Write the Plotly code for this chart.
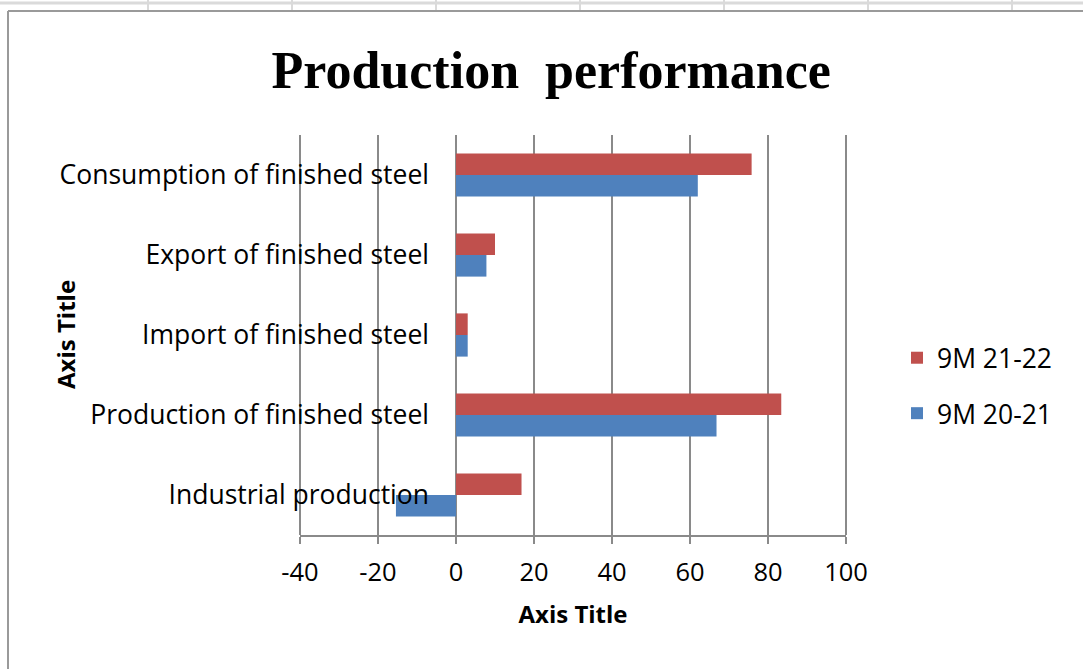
import plotly.graph_objects as go

categories = [
    "Industrial production",
    "Production of finished steel",
    "Import of finished steel",
    "Export of finished steel",
    "Consumption of finished steel",
]
series_2021 = [-15.4, 66.8, 3.0, 7.8, 62.0]   # 9M 20-21
series_2122 = [16.8, 83.4, 3.0, 10.0, 75.8]   # 9M 21-22
x_ticks = [-40, -20, 0, 20, 40, 60, 80, 100]
x_tick_text = ["-40", "-20", "0", "20", "40", "60", "80", "100"]

W, H = 1083, 669
L, R, T, B = 300, 237, 135, 134
pw, ph = W - L - R, H - T - B

def px_x(p):
    return (p - L) / pw

def px_y(p):
    return (H - B - p) / ph

font = "Open Sans"
grid_col = "#8a8a8a"
fig = go.Figure()
fig.add_trace(go.Bar(y=categories, x=series_2021, orientation="h", name="9M 20-21",
                     marker=dict(color="#4F81BD", line=dict(width=0)), legendgroup="a",
                     legendrank=2))
fig.add_trace(go.Bar(y=categories, x=series_2122, orientation="h", name="9M 21-22",
                     marker=dict(color="#C0504D", line=dict(width=0)), legendgroup="b",
                     legendrank=1))

fig.update_layout(
    width=W, height=H, autosize=False,
    margin=dict(l=L, r=R, t=T, b=B),
    paper_bgcolor="white", plot_bgcolor="white",
    barmode="group", bargap=0.46, bargroupgap=0,
    title=dict(text="Production  performance", x=0.509, xanchor="center",
               y=1 - 70 / H, yanchor="middle",
               font=dict(family="Liberation Serif", size=52, color="black", weight="bold")),
    font=dict(family=font, size=25, color="black"),
    legend=dict(x=px_x(897), y=px_y(334), xanchor="left", yanchor="top",
                traceorder="grouped", tracegroupgap=18,
                font=dict(size=26.5, family=font), bgcolor="rgba(0,0,0,0)"),
    xaxis=dict(range=[-40, 100], tickvals=x_ticks, ticktext=x_tick_text,
               showgrid=True, gridcolor=grid_col,
               gridwidth=2, zeroline=False, showline=True, linecolor=grid_col, linewidth=2,
               ticks="outside", ticklen=7, tickcolor=grid_col, tickwidth=2,
               ticklabelstandoff=6, tickfont=dict(size=25.5),
               title=dict(text="<b>Axis Title</b>", standoff=20, font=dict(size=24)),
               fixedrange=True, automargin=False),
    yaxis=dict(type="category", categoryorder="array", categoryarray=categories,
               anchor="free", position=px_x(457), showgrid=False, zeroline=False,
               showline=False, ticks="", ticklabelstandoff=28, automargin=False,
               tickfont=dict(size=26.5), fixedrange=True),
    annotations=[dict(text="<b>Axis Title</b>", textangle=-90, x=px_x(65), y=px_y(335),
                      xref="paper", yref="paper", showarrow=False,
                      font=dict(size=24, family=font, color="black"),
                      xanchor="center", yanchor="middle")],
)

shapes = []
# gridlines at the range ends (-40 and 100), which plotly omits at the plot edges
for ex in (0, 1):
    shapes.append(dict(type="line", xref="paper", yref="paper", x0=ex, x1=ex, y0=0, y1=1,
                       line=dict(color=grid_col, width=2), layer="below"))
# spreadsheet frame look
shapes.append(dict(type="line", xref="paper", yref="paper", x0=px_x(0), x1=px_x(W),
                   y0=px_y(3), y1=px_y(3), line=dict(color="#dadada", width=3), layer="below"))
for cx in [148, 292, 436, 580, 724, 868, 1012]:
    shapes.append(dict(type="line", xref="paper", yref="paper", x0=px_x(cx), x1=px_x(cx),
                       y0=px_y(0), y1=px_y(10), line=dict(color="#dadada", width=2), layer="below"))
shapes.append(dict(type="line", xref="paper", yref="paper", x0=px_x(8), x1=px_x(W),
                   y0=px_y(11), y1=px_y(11), line=dict(color="#9a9a9a", width=2)))
shapes.append(dict(type="line", xref="paper", yref="paper", x0=px_x(8), x1=px_x(8),
                   y0=px_y(11), y1=px_y(H), line=dict(color="#9a9a9a", width=2)))
fig.update_layout(shapes=shapes)

fig.write_html("out.html")
